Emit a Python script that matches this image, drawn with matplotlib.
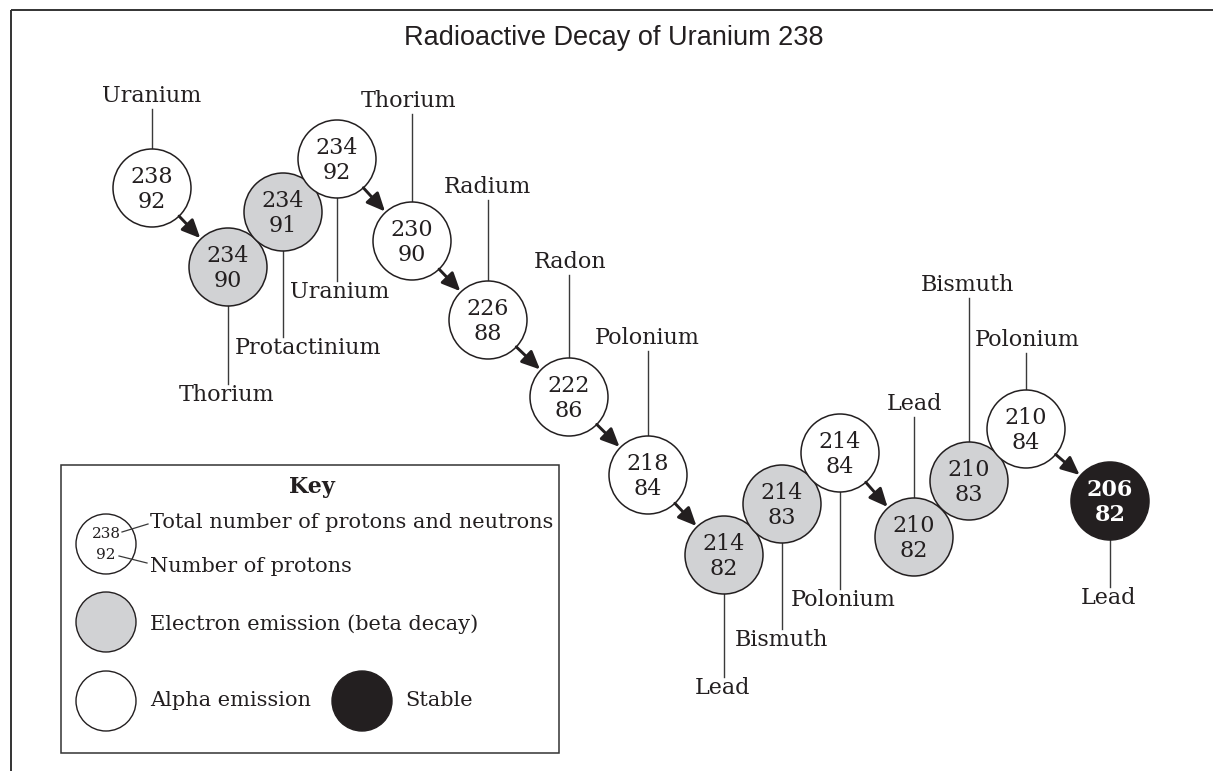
import matplotlib
matplotlib.use("Agg")
import matplotlib.pyplot as plt
from matplotlib.patches import Circle, FancyArrowPatch, Rectangle
import numpy as np

# ---------------- data ----------------
mass_numbers = [238, 234, 234, 234, 230, 226, 222, 218, 214, 214, 214, 210, 210, 210, 206]
proton_numbers = [92, 90, 91, 92, 90, 88, 86, 84, 82, 83, 84, 82, 83, 84, 82]
element_names = ["Uranium", "Thorium", "Protactinium", "Uranium", "Thorium", "Radium",
                 "Radon", "Polonium", "Lead", "Bismuth", "Polonium", "Lead",
                 "Bismuth", "Polonium", "Lead"]
decay_types = ["alpha", "beta", "beta", "alpha", "alpha", "alpha", "alpha", "alpha",
               "beta", "beta", "alpha", "beta", "beta", "alpha", "stable"]

title_text = "Radioactive Decay of Uranium 238"
key_title = "Key"
key_labels = ["Total number of protons and neutrons", "Number of protons",
              "Electron emission (beta decay)", "Alpha emission", "Stable"]

# ---------------- layout (pixels) ----------------
node_x = [152, 228, 283, 337, 412, 488, 569, 648, 724, 782, 840, 914, 969, 1026, 1110]
node_y = [188, 267, 212, 159, 241, 320, 397, 475, 555, 504, 453, 537, 481, 429, 501]
label_side = ["up", "down", "down", "down", "up", "up", "up", "up",
              "down", "down", "down", "up", "up", "up", "down"]
label_x = [152, 227, 308, 340, 409, 487, 570, 647, 722, 782, 843, 915, 967, 1027, 1108]
label_y = [96, 395, 348, 292, 101, 187, 262, 338, 688, 640, 600, 404, 285, 340, 598]
R = 39

fill_colors = {"alpha": "white", "beta": "#d1d2d4", "stable": "#231f20"}
edge_col = "#231f20"
line_col = "#3a3a3a"

W, H = 1213, 771
fig = plt.figure(figsize=(W / 100, H / 100), dpi=100)
ax = fig.add_axes([0, 0, 1, 1])
ax.set_xlim(0, W)
ax.set_ylim(H, 0)
ax.axis("off")

serif = "DejaVu Serif"
fs = 16

# outer frame (top and left)
ax.plot([11, W], [10, 10], color="#333333", lw=1.4, solid_capstyle="butt")
ax.plot([11, 11], [10, H], color="#333333", lw=1.4, solid_capstyle="butt")

ax.text(614, 38, title_text, ha="center", va="center", fontsize=19.5,
        family="Liberation Sans", color="#231f20")

# label leader lines and names
for i in range(len(mass_numbers)):
    cx, cy = node_x[i], node_y[i]
    if label_side[i] == "up":
        ax.plot([cx, cx], [cy - R, label_y[i] + 13], color=line_col, lw=1.0, zorder=1)
    else:
        ax.plot([cx, cx], [cy + R, label_y[i] - 11], color=line_col, lw=1.0, zorder=1)
    ax.text(label_x[i], label_y[i], element_names[i], ha="center", va="center",
            fontsize=fs, family=serif, color="#231f20")

# circles
for i in range(len(mass_numbers)):
    cx, cy = node_x[i], node_y[i]
    d = decay_types[i]
    ax.add_patch(Circle((cx, cy), R, facecolor=fill_colors[d], edgecolor=edge_col,
                        lw=1.1, zorder=3))
    tc = "white" if d == "stable" else "#231f20"
    fw = "bold" if d == "stable" else "normal"
    ax.text(cx, cy - 11, str(mass_numbers[i]), ha="center", va="center", fontsize=fs,
            family=serif, color=tc, fontweight=fw, zorder=4)
    ax.text(cx, cy + 14, str(proton_numbers[i]), ha="center", va="center", fontsize=fs,
            family=serif, color=tc, fontweight=fw, zorder=4)

# arrows for alpha decays
for i in range(len(mass_numbers) - 1):
    if decay_types[i] != "alpha":
        continue
    x0, y0 = node_x[i], node_y[i]
    x1, y1 = node_x[i + 1], node_y[i + 1]
    v = np.array([x1 - x0, y1 - y0], dtype=float)
    u = v / np.hypot(*v)
    pa = (x0 + u[0] * R, y0 + u[1] * R)
    pb = (x1 - u[0] * (R + 1), y1 - u[1] * (R + 1))
    ax.add_patch(FancyArrowPatch(pa, pb, arrowstyle="-|>,head_length=0.55,head_width=0.25",
                                 mutation_scale=20, lw=2.1, color="#231f20",
                                 shrinkA=0, shrinkB=0, zorder=5))

# key box
ax.add_patch(Rectangle((61, 465), 498, 288, facecolor="none", edgecolor="#333333", lw=1.1))
ax.text(312, 487, key_title, ha="center", va="center", fontsize=fs, family=serif,
        fontweight="bold", color="#231f20")
kr = 30
ax.add_patch(Circle((106, 544), kr, facecolor="white", edgecolor=edge_col, lw=1.0))
ax.text(106, 534, str(mass_numbers[0]), ha="center", va="center", fontsize=11,
        family=serif, color="#231f20")
ax.text(106, 555, str(proton_numbers[0]), ha="center", va="center", fontsize=11,
        family=serif, color="#231f20")
ax.plot([122, 148], [532, 524], color=line_col, lw=0.9)
ax.plot([119, 147], [556, 563], color=line_col, lw=0.9)
ax.text(150, 523, key_labels[0], ha="left", va="center", fontsize=15, family=serif,
        color="#231f20")
ax.text(150, 567, key_labels[1], ha="left", va="center", fontsize=15, family=serif,
        color="#231f20")
ax.add_patch(Circle((106, 622), kr, facecolor=fill_colors["beta"], edgecolor=edge_col, lw=1.0))
ax.text(150, 624, key_labels[2], ha="left", va="center", fontsize=15, family=serif,
        color="#231f20")
ax.add_patch(Circle((106, 701), kr, facecolor=fill_colors["alpha"], edgecolor=edge_col, lw=1.0))
ax.text(150, 701, key_labels[3], ha="left", va="center", fontsize=15, family=serif,
        color="#231f20")
ax.add_patch(Circle((362, 701), kr, facecolor=fill_colors["stable"], edgecolor=edge_col, lw=1.0))
ax.text(405, 701, key_labels[4], ha="left", va="center", fontsize=15, family=serif,
        color="#231f20")

fig.savefig("out.png", dpi=100, facecolor="white")
